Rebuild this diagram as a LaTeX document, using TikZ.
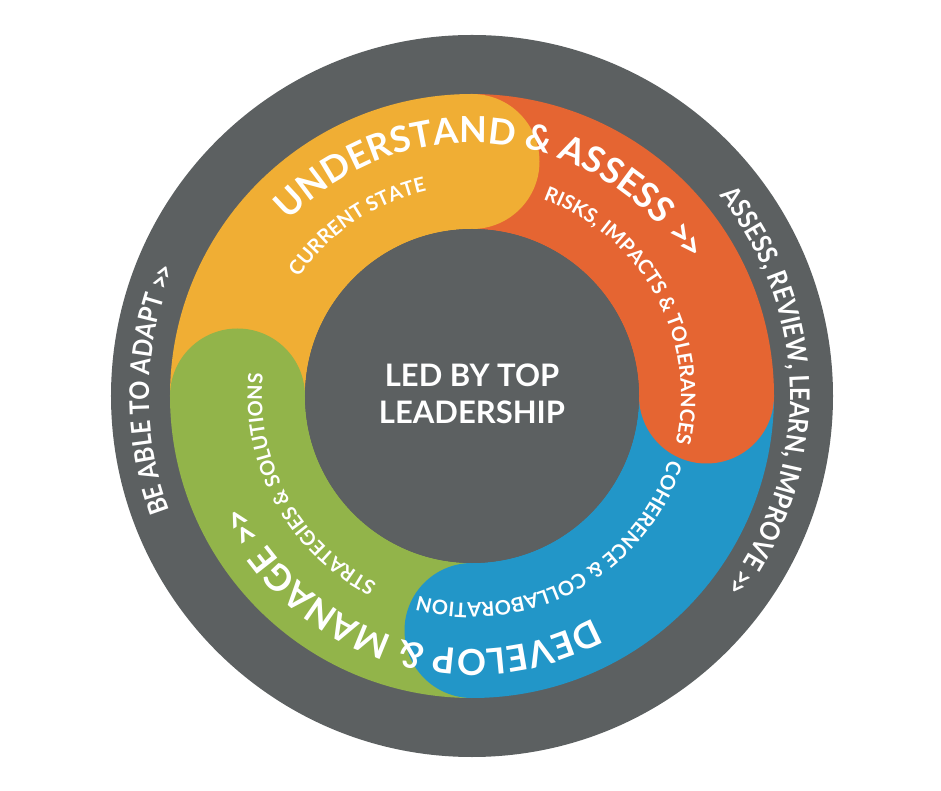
\documentclass[tikz,border=0pt]{standalone}
\usepackage{fontspec}
\setmainfont{Lato}
\newfontfamily\narrowlato{Lato}[FakeStretch=0.88]
\usetikzlibrary{decorations.text}
\definecolor{ringgray}{RGB}{92,96,97}
\definecolor{segyellow}{RGB}{240,174,52}
\definecolor{segorange}{RGB}{229,101,50}
\definecolor{segblue}{RGB}{34,150,200}
\definecolor{seggreen}{RGB}{146,180,74}
\newcommand\stagefont{\fontsize{36}{36}\selectfont\bfseries}
\newcommand\notefont{\fontsize{20}{20}\selectfont\bfseries}
\newcommand\rimfont{\fontsize{27}{27}\selectfont\narrowlato\bfseries}
\newcommand\onward{>\kern-0.12em>}
\newcommand\ringlabel[4]{%
  \path[decorate,decoration={text along path,text align=center,text color=white,text={|#3|#4}}]
    (#2+80:#1) arc[start angle=#2+80,end angle=#2-80,radius=#1];}
\begin{document}
\begin{tikzpicture}[x=1pt,y=1pt,
  band/.style={line width=135pt},
  lead/.style={align=center,text=white,font=\fontsize{31}{37}\selectfont\bfseries}]
\useasboundingbox (-472,-395) rectangle (469,396);
\fill[ringgray] (0,0) circle[radius=361];
\foreach \from/\col in {180/segyellow,90/segorange,0/segblue,-90/seggreen}
  \draw[band,\col] (\from:234.5) arc[start angle=\from,delta angle=-90,radius=234.5];
\foreach \from/\col in {180/segyellow,90/segorange,0/segblue,-90/seggreen}
  \fill[\col] (\from-90:234.5) circle[radius=67.5];
\fill[ringgray] (0,0) circle[radius=167];
\node[lead] (leader) at (0,2) {LED BY TOP\\LEADERSHIP};
\ringlabel{253}{84}{\stagefont}{UNDERSTAND {\&} ASSESS {\onward}}
\ringlabel{253}{-108}{\stagefont}{DEVELOP {\&} MANAGE {\onward}}
\ringlabel{210}{124}{\notefont}{CURRENT STATE}
\ringlabel{209}{28.5}{\notefont}{RISKS, IMPACTS {\&} TOLERANCES}
\ringlabel{207}{-61.5}{\notefont}{COHERENCE {\&} COLLABORATION}
\ringlabel{210}{-151.5}{\notefont}{STRATEGIES {\&} SOLUTIONS}
\ringlabel{318}{1}{\rimfont}{ASSESS, REVIEW, LEARN, IMPROVE {\onward}}
\ringlabel{323}{178.8}{\rimfont}{BE ABLE TO ADAPT {\onward}}
\end{tikzpicture}
\end{document}
